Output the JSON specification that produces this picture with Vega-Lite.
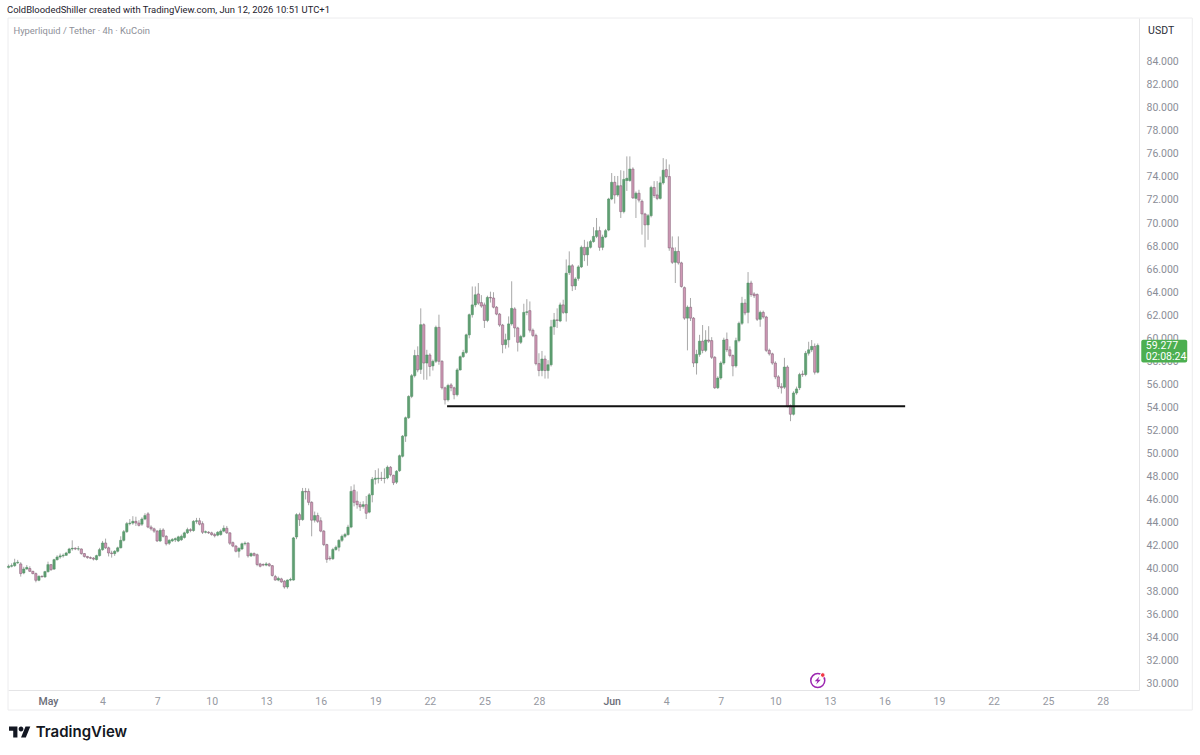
{
  "$schema": "https://vega.github.io/schema/vega-lite/v6.json",
  "width": 1131,
  "height": 672,
  "autosize": {"type": "none"},
  "padding": {"left": 8, "top": 18, "right": 61, "bottom": 65},
  "background": "#ffffff",
  "title": {
    "text": "ColdBloodedShiller created with TradingView.com, Jun 12, 2026 10:51 UTC+1",
    "anchor": "start",
    "frame": "group",
    "font": "Roboto",
    "fontSize": 9.45,
    "fontWeight": "normal",
    "color": "#1e222d",
    "offset": 2,
    "dx": -1
  },
  "config": {"view": {"stroke": null}},
  "datasets": {
    "candles": [
      {"t":"2026-04-28T20:00:00Z","o":40.0,"h":40.25,"l":39.9,"c":40.1},
      {"t":"2026-04-29T00:00:00Z","o":40.1,"h":40.35,"l":40.0,"c":40.15},
      {"t":"2026-04-29T04:00:00Z","o":40.15,"h":40.75,"l":40.05,"c":40.4},
      {"t":"2026-04-29T08:00:00Z","o":40.4,"h":40.65,"l":40.3,"c":40.45},
      {"t":"2026-04-29T12:00:00Z","o":40.3,"h":40.45,"l":39.2,"c":39.46},
      {"t":"2026-04-29T16:00:00Z","o":39.52,"h":40.05,"l":39.4,"c":39.86},
      {"t":"2026-04-29T20:00:00Z","o":39.86,"h":40.2,"l":39.8,"c":40.0},
      {"t":"2026-04-30T00:00:00Z","o":39.9,"h":40.1,"l":39.6,"c":39.66},
      {"t":"2026-04-30T04:00:00Z","o":39.66,"h":39.7,"l":39.4,"c":39.46},
      {"t":"2026-04-30T08:00:00Z","o":39.46,"h":39.55,"l":38.7,"c":38.88},
      {"t":"2026-04-30T12:00:00Z","o":38.88,"h":39.3,"l":38.8,"c":39.23},
      {"t":"2026-04-30T16:00:00Z","o":39.23,"h":39.3,"l":39.1,"c":39.2},
      {"t":"2026-04-30T20:00:00Z","o":39.17,"h":39.7,"l":39.1,"c":39.63},
      {"t":"2026-05-01T00:00:00Z","o":39.63,"h":40.5,"l":39.55,"c":40.24},
      {"t":"2026-05-01T04:00:00Z","o":40.24,"h":40.3,"l":39.7,"c":39.8},
      {"t":"2026-05-01T08:00:00Z","o":39.85,"h":40.75,"l":39.8,"c":40.67},
      {"t":"2026-05-01T12:00:00Z","o":40.67,"h":41.05,"l":40.6,"c":40.9},
      {"t":"2026-05-01T16:00:00Z","o":40.9,"h":41.2,"l":40.75,"c":41.0},
      {"t":"2026-05-01T20:00:00Z","o":41.0,"h":41.2,"l":40.85,"c":41.05},
      {"t":"2026-05-02T00:00:00Z","o":41.05,"h":41.35,"l":41.0,"c":41.25},
      {"t":"2026-05-02T04:00:00Z","o":41.25,"h":41.7,"l":41.2,"c":41.6},
      {"t":"2026-05-02T08:00:00Z","o":41.6,"h":42.35,"l":41.45,"c":41.66},
      {"t":"2026-05-02T12:00:00Z","o":41.66,"h":41.75,"l":41.5,"c":41.6},
      {"t":"2026-05-02T16:00:00Z","o":41.6,"h":41.85,"l":41.45,"c":41.62},
      {"t":"2026-05-02T20:00:00Z","o":41.6,"h":41.65,"l":41.1,"c":41.2},
      {"t":"2026-05-03T00:00:00Z","o":41.2,"h":41.25,"l":40.85,"c":40.95},
      {"t":"2026-05-03T04:00:00Z","o":40.95,"h":41.0,"l":40.75,"c":40.85},
      {"t":"2026-05-03T08:00:00Z","o":40.85,"h":40.95,"l":40.72,"c":40.8},
      {"t":"2026-05-03T12:00:00Z","o":40.8,"h":40.9,"l":40.6,"c":40.72},
      {"t":"2026-05-03T16:00:00Z","o":40.68,"h":41.1,"l":40.6,"c":41.02},
      {"t":"2026-05-03T20:00:00Z","o":41.02,"h":41.7,"l":40.95,"c":41.54},
      {"t":"2026-05-04T00:00:00Z","o":41.54,"h":42.3,"l":41.45,"c":42.12},
      {"t":"2026-05-04T04:00:00Z","o":42.12,"h":42.5,"l":41.6,"c":41.7},
      {"t":"2026-05-04T08:00:00Z","o":41.7,"h":41.8,"l":40.95,"c":41.25},
      {"t":"2026-05-04T12:00:00Z","o":41.25,"h":41.45,"l":40.85,"c":41.2},
      {"t":"2026-05-04T16:00:00Z","o":41.2,"h":41.5,"l":41.0,"c":41.4},
      {"t":"2026-05-04T20:00:00Z","o":41.4,"h":41.8,"l":41.3,"c":41.7},
      {"t":"2026-05-05T00:00:00Z","o":41.7,"h":42.7,"l":41.65,"c":42.35},
      {"t":"2026-05-05T04:00:00Z","o":42.35,"h":43.25,"l":42.25,"c":43.1},
      {"t":"2026-05-05T08:00:00Z","o":43.1,"h":43.95,"l":43.0,"c":43.8},
      {"t":"2026-05-05T12:00:00Z","o":43.8,"h":44.2,"l":43.65,"c":43.85},
      {"t":"2026-05-05T16:00:00Z","o":43.85,"h":44.45,"l":43.7,"c":44.0},
      {"t":"2026-05-05T20:00:00Z","o":44.0,"h":44.4,"l":43.6,"c":43.85},
      {"t":"2026-05-06T00:00:00Z","o":43.85,"h":44.1,"l":43.55,"c":43.65},
      {"t":"2026-05-06T04:00:00Z","o":43.75,"h":44.35,"l":43.6,"c":44.2},
      {"t":"2026-05-06T08:00:00Z","o":44.2,"h":44.7,"l":44.1,"c":44.5},
      {"t":"2026-05-06T12:00:00Z","o":44.65,"h":44.8,"l":43.4,"c":43.5},
      {"t":"2026-05-06T16:00:00Z","o":43.5,"h":43.65,"l":43.2,"c":43.35},
      {"t":"2026-05-06T20:00:00Z","o":43.35,"h":43.45,"l":43.0,"c":43.15},
      {"t":"2026-05-07T00:00:00Z","o":43.15,"h":43.25,"l":42.2,"c":42.3},
      {"t":"2026-05-07T04:00:00Z","o":42.3,"h":43.4,"l":42.2,"c":43.22},
      {"t":"2026-05-07T08:00:00Z","o":43.25,"h":43.4,"l":42.6,"c":42.7},
      {"t":"2026-05-07T12:00:00Z","o":42.7,"h":42.8,"l":41.9,"c":42.05},
      {"t":"2026-05-07T16:00:00Z","o":42.1,"h":42.45,"l":41.95,"c":42.35},
      {"t":"2026-05-07T20:00:00Z","o":42.3,"h":42.55,"l":42.2,"c":42.42},
      {"t":"2026-05-08T00:00:00Z","o":42.4,"h":42.6,"l":42.2,"c":42.5},
      {"t":"2026-05-08T04:00:00Z","o":42.3,"h":42.75,"l":42.2,"c":42.65},
      {"t":"2026-05-08T08:00:00Z","o":42.4,"h":42.85,"l":42.3,"c":42.7},
      {"t":"2026-05-08T12:00:00Z","o":42.6,"h":43.1,"l":42.5,"c":43.0},
      {"t":"2026-05-08T16:00:00Z","o":43.0,"h":43.45,"l":42.9,"c":43.28},
      {"t":"2026-05-08T20:00:00Z","o":43.28,"h":43.4,"l":43.05,"c":43.2},
      {"t":"2026-05-09T00:00:00Z","o":43.2,"h":44.1,"l":43.1,"c":44.0},
      {"t":"2026-05-09T04:00:00Z","o":44.0,"h":44.3,"l":43.8,"c":44.05},
      {"t":"2026-05-09T08:00:00Z","o":44.05,"h":44.3,"l":43.65,"c":43.75},
      {"t":"2026-05-09T12:00:00Z","o":43.8,"h":44.0,"l":42.9,"c":43.05},
      {"t":"2026-05-09T16:00:00Z","o":43.05,"h":43.2,"l":42.95,"c":43.1},
      {"t":"2026-05-09T20:00:00Z","o":43.05,"h":43.15,"l":42.9,"c":43.0},
      {"t":"2026-05-10T00:00:00Z","o":43.0,"h":43.1,"l":42.75,"c":42.85},
      {"t":"2026-05-10T04:00:00Z","o":42.85,"h":43.0,"l":42.6,"c":42.75},
      {"t":"2026-05-10T08:00:00Z","o":42.8,"h":43.15,"l":42.7,"c":43.05},
      {"t":"2026-05-10T12:00:00Z","o":42.85,"h":43.3,"l":42.75,"c":43.15},
      {"t":"2026-05-10T16:00:00Z","o":43.15,"h":43.65,"l":43.05,"c":43.4},
      {"t":"2026-05-10T20:00:00Z","o":43.4,"h":43.6,"l":42.9,"c":43.0},
      {"t":"2026-05-11T00:00:00Z","o":43.0,"h":43.05,"l":41.95,"c":42.1},
      {"t":"2026-05-11T04:00:00Z","o":42.15,"h":42.25,"l":41.75,"c":41.85},
      {"t":"2026-05-11T08:00:00Z","o":41.85,"h":41.95,"l":41.3,"c":41.4},
      {"t":"2026-05-11T12:00:00Z","o":41.4,"h":41.75,"l":40.85,"c":41.65},
      {"t":"2026-05-11T16:00:00Z","o":41.6,"h":42.15,"l":41.5,"c":42.05},
      {"t":"2026-05-11T20:00:00Z","o":42.05,"h":42.25,"l":41.9,"c":42.1},
      {"t":"2026-05-12T00:00:00Z","o":42.1,"h":42.2,"l":40.85,"c":41.0},
      {"t":"2026-05-12T04:00:00Z","o":41.0,"h":41.3,"l":40.9,"c":41.2},
      {"t":"2026-05-12T08:00:00Z","o":41.2,"h":41.3,"l":40.95,"c":41.05},
      {"t":"2026-05-12T12:00:00Z","o":41.1,"h":41.2,"l":40.1,"c":40.25},
      {"t":"2026-05-12T16:00:00Z","o":40.3,"h":40.4,"l":40.0,"c":40.1},
      {"t":"2026-05-12T20:00:00Z","o":40.25,"h":40.35,"l":40.1,"c":40.2},
      {"t":"2026-05-13T00:00:00Z","o":40.2,"h":40.45,"l":40.1,"c":40.3},
      {"t":"2026-05-13T04:00:00Z","o":40.3,"h":40.4,"l":40.05,"c":40.15},
      {"t":"2026-05-13T08:00:00Z","o":40.15,"h":40.2,"l":39.2,"c":39.3},
      {"t":"2026-05-13T12:00:00Z","o":39.2,"h":39.35,"l":38.85,"c":38.9},
      {"t":"2026-05-13T16:00:00Z","o":38.9,"h":39.2,"l":38.8,"c":39.05},
      {"t":"2026-05-13T20:00:00Z","o":39.0,"h":39.1,"l":38.65,"c":38.75},
      {"t":"2026-05-14T00:00:00Z","o":38.8,"h":38.9,"l":38.15,"c":38.3},
      {"t":"2026-05-14T04:00:00Z","o":38.3,"h":38.95,"l":38.15,"c":38.9},
      {"t":"2026-05-14T08:00:00Z","o":38.9,"h":39.1,"l":38.8,"c":38.95},
      {"t":"2026-05-14T12:00:00Z","o":38.9,"h":42.65,"l":38.85,"c":42.56},
      {"t":"2026-05-14T16:00:00Z","o":42.64,"h":44.7,"l":42.45,"c":44.58},
      {"t":"2026-05-14T20:00:00Z","o":44.58,"h":44.75,"l":43.6,"c":44.15},
      {"t":"2026-05-15T00:00:00Z","o":44.15,"h":46.9,"l":44.05,"c":46.6},
      {"t":"2026-05-15T04:00:00Z","o":46.6,"h":46.9,"l":45.9,"c":46.55},
      {"t":"2026-05-15T08:00:00Z","o":46.6,"h":46.85,"l":45.4,"c":45.65},
      {"t":"2026-05-15T12:00:00Z","o":45.65,"h":45.75,"l":42.7,"c":44.1},
      {"t":"2026-05-15T16:00:00Z","o":44.1,"h":44.85,"l":43.9,"c":44.5},
      {"t":"2026-05-15T20:00:00Z","o":44.5,"h":44.75,"l":43.85,"c":44.0},
      {"t":"2026-05-16T00:00:00Z","o":44.05,"h":44.35,"l":43.05,"c":43.15},
      {"t":"2026-05-16T04:00:00Z","o":43.15,"h":43.25,"l":41.85,"c":41.98},
      {"t":"2026-05-16T08:00:00Z","o":41.98,"h":42.05,"l":40.4,"c":40.7},
      {"t":"2026-05-16T12:00:00Z","o":40.8,"h":41.0,"l":40.6,"c":40.75},
      {"t":"2026-05-16T16:00:00Z","o":40.75,"h":41.7,"l":40.65,"c":41.55},
      {"t":"2026-05-16T20:00:00Z","o":41.55,"h":41.9,"l":41.45,"c":41.75},
      {"t":"2026-05-17T00:00:00Z","o":41.75,"h":42.45,"l":41.4,"c":42.35},
      {"t":"2026-05-17T04:00:00Z","o":42.35,"h":42.85,"l":42.2,"c":42.7},
      {"t":"2026-05-17T08:00:00Z","o":42.7,"h":43.0,"l":42.55,"c":42.85},
      {"t":"2026-05-17T12:00:00Z","o":42.85,"h":43.7,"l":42.75,"c":43.5},
      {"t":"2026-05-17T16:00:00Z","o":43.5,"h":47.05,"l":43.4,"c":46.6},
      {"t":"2026-05-17T20:00:00Z","o":46.7,"h":47.2,"l":45.3,"c":45.65},
      {"t":"2026-05-18T00:00:00Z","o":45.75,"h":46.6,"l":45.1,"c":45.45},
      {"t":"2026-05-18T04:00:00Z","o":45.45,"h":45.7,"l":44.9,"c":45.25},
      {"t":"2026-05-18T08:00:00Z","o":45.3,"h":45.75,"l":45.1,"c":45.45},
      {"t":"2026-05-18T12:00:00Z","o":45.45,"h":46.2,"l":44.2,"c":44.7},
      {"t":"2026-05-18T16:00:00Z","o":44.8,"h":46.45,"l":44.7,"c":46.3},
      {"t":"2026-05-18T20:00:00Z","o":46.3,"h":47.85,"l":45.65,"c":47.65},
      {"t":"2026-05-19T00:00:00Z","o":47.65,"h":48.45,"l":47.2,"c":47.75},
      {"t":"2026-05-19T04:00:00Z","o":47.7,"h":48.6,"l":47.3,"c":47.75},
      {"t":"2026-05-19T08:00:00Z","o":47.75,"h":48.3,"l":47.5,"c":47.72},
      {"t":"2026-05-19T12:00:00Z","o":47.72,"h":48.6,"l":47.3,"c":47.75},
      {"t":"2026-05-19T16:00:00Z","o":47.77,"h":48.85,"l":47.65,"c":48.7},
      {"t":"2026-05-19T20:00:00Z","o":48.7,"h":48.8,"l":47.9,"c":48.05},
      {"t":"2026-05-20T00:00:00Z","o":48.0,"h":48.05,"l":47.15,"c":47.35},
      {"t":"2026-05-20T04:00:00Z","o":47.4,"h":48.45,"l":47.25,"c":48.35},
      {"t":"2026-05-20T08:00:00Z","o":48.4,"h":49.8,"l":48.3,"c":49.7},
      {"t":"2026-05-20T12:00:00Z","o":49.65,"h":51.5,"l":49.55,"c":51.4},
      {"t":"2026-05-20T16:00:00Z","o":51.4,"h":53.1,"l":50.9,"c":53.0},
      {"t":"2026-05-20T20:00:00Z","o":53.0,"h":54.95,"l":52.9,"c":54.85},
      {"t":"2026-05-21T00:00:00Z","o":54.85,"h":56.8,"l":54.7,"c":56.65},
      {"t":"2026-05-21T04:00:00Z","o":56.65,"h":58.9,"l":56.5,"c":58.4},
      {"t":"2026-05-21T08:00:00Z","o":58.4,"h":59.2,"l":56.95,"c":57.15},
      {"t":"2026-05-21T12:00:00Z","o":57.2,"h":62.5,"l":56.8,"c":61.08},
      {"t":"2026-05-21T16:00:00Z","o":61.08,"h":61.2,"l":56.3,"c":57.75},
      {"t":"2026-05-21T20:00:00Z","o":57.75,"h":58.9,"l":56.3,"c":58.45},
      {"t":"2026-05-22T00:00:00Z","o":58.45,"h":58.6,"l":56.6,"c":57.45},
      {"t":"2026-05-22T04:00:00Z","o":57.5,"h":58.05,"l":57.1,"c":57.9},
      {"t":"2026-05-22T08:00:00Z","o":57.9,"h":61.0,"l":57.75,"c":60.85},
      {"t":"2026-05-22T12:00:00Z","o":60.85,"h":61.95,"l":57.6,"c":57.9},
      {"t":"2026-05-22T16:00:00Z","o":57.9,"h":58.0,"l":55.45,"c":55.6},
      {"t":"2026-05-22T20:00:00Z","o":55.6,"h":55.7,"l":54.15,"c":54.55},
      {"t":"2026-05-23T00:00:00Z","o":54.55,"h":55.95,"l":54.4,"c":55.8},
      {"t":"2026-05-23T04:00:00Z","o":55.85,"h":56.0,"l":55.3,"c":55.6},
      {"t":"2026-05-23T08:00:00Z","o":55.6,"h":55.7,"l":54.6,"c":55.0},
      {"t":"2026-05-23T12:00:00Z","o":55.0,"h":57.3,"l":54.85,"c":57.15},
      {"t":"2026-05-23T16:00:00Z","o":57.15,"h":58.4,"l":57.1,"c":58.3},
      {"t":"2026-05-23T20:00:00Z","o":58.3,"h":58.9,"l":58.2,"c":58.67},
      {"t":"2026-05-24T00:00:00Z","o":58.67,"h":60.3,"l":58.55,"c":60.2},
      {"t":"2026-05-24T04:00:00Z","o":60.2,"h":62.05,"l":59.9,"c":61.95},
      {"t":"2026-05-24T08:00:00Z","o":61.95,"h":64.4,"l":61.7,"c":62.8},
      {"t":"2026-05-24T12:00:00Z","o":62.8,"h":64.4,"l":62.6,"c":63.68},
      {"t":"2026-05-24T16:00:00Z","o":63.75,"h":64.7,"l":62.8,"c":62.95},
      {"t":"2026-05-24T20:00:00Z","o":63.0,"h":63.65,"l":62.55,"c":62.7},
      {"t":"2026-05-25T00:00:00Z","o":62.8,"h":63.0,"l":60.8,"c":61.45},
      {"t":"2026-05-25T04:00:00Z","o":61.45,"h":63.6,"l":61.3,"c":63.45},
      {"t":"2026-05-25T08:00:00Z","o":63.45,"h":63.95,"l":63.0,"c":63.4},
      {"t":"2026-05-25T12:00:00Z","o":63.4,"h":63.9,"l":62.5,"c":62.6},
      {"t":"2026-05-25T16:00:00Z","o":62.6,"h":62.7,"l":61.9,"c":62.0},
      {"t":"2026-05-25T20:00:00Z","o":62.0,"h":62.1,"l":60.9,"c":61.05},
      {"t":"2026-05-26T00:00:00Z","o":61.05,"h":61.15,"l":58.6,"c":59.35},
      {"t":"2026-05-26T04:00:00Z","o":59.35,"h":60.3,"l":59.0,"c":59.77},
      {"t":"2026-05-26T08:00:00Z","o":59.77,"h":61.8,"l":59.1,"c":61.15},
      {"t":"2026-05-26T12:00:00Z","o":61.15,"h":64.85,"l":61.0,"c":62.5},
      {"t":"2026-05-26T16:00:00Z","o":62.45,"h":62.6,"l":60.0,"c":60.8},
      {"t":"2026-05-26T20:00:00Z","o":60.8,"h":60.9,"l":58.75,"c":59.55},
      {"t":"2026-05-27T00:00:00Z","o":59.55,"h":60.2,"l":59.4,"c":60.05},
      {"t":"2026-05-27T04:00:00Z","o":60.05,"h":62.9,"l":59.95,"c":62.15},
      {"t":"2026-05-27T08:00:00Z","o":62.15,"h":63.3,"l":61.9,"c":62.2},
      {"t":"2026-05-27T12:00:00Z","o":62.3,"h":63.1,"l":60.4,"c":60.6},
      {"t":"2026-05-27T16:00:00Z","o":60.6,"h":60.75,"l":60.0,"c":60.15},
      {"t":"2026-05-27T20:00:00Z","o":60.15,"h":60.3,"l":57.55,"c":57.7},
      {"t":"2026-05-28T00:00:00Z","o":57.7,"h":58.6,"l":56.6,"c":57.1},
      {"t":"2026-05-28T04:00:00Z","o":57.1,"h":58.8,"l":56.6,"c":58.1},
      {"t":"2026-05-28T08:00:00Z","o":58.1,"h":58.4,"l":56.4,"c":57.1},
      {"t":"2026-05-28T12:00:00Z","o":57.1,"h":58.0,"l":56.4,"c":57.6},
      {"t":"2026-05-28T16:00:00Z","o":57.6,"h":61.5,"l":57.45,"c":60.9},
      {"t":"2026-05-28T20:00:00Z","o":60.9,"h":62.1,"l":60.2,"c":61.5},
      {"t":"2026-05-29T00:00:00Z","o":61.5,"h":62.5,"l":60.8,"c":61.45},
      {"t":"2026-05-29T04:00:00Z","o":61.4,"h":63.0,"l":61.3,"c":62.8},
      {"t":"2026-05-29T08:00:00Z","o":62.8,"h":63.25,"l":62.0,"c":62.15},
      {"t":"2026-05-29T12:00:00Z","o":62.1,"h":66.75,"l":61.35,"c":65.55},
      {"t":"2026-05-29T16:00:00Z","o":65.6,"h":67.45,"l":65.4,"c":66.2},
      {"t":"2026-05-29T20:00:00Z","o":66.2,"h":66.35,"l":64.0,"c":64.45},
      {"t":"2026-05-30T00:00:00Z","o":64.45,"h":65.2,"l":64.1,"c":65.05},
      {"t":"2026-05-30T04:00:00Z","o":65.1,"h":66.25,"l":64.9,"c":66.1},
      {"t":"2026-05-30T08:00:00Z","o":66.1,"h":67.95,"l":66.0,"c":67.8},
      {"t":"2026-05-30T12:00:00Z","o":67.8,"h":68.45,"l":66.6,"c":67.15},
      {"t":"2026-05-30T16:00:00Z","o":67.15,"h":68.3,"l":66.2,"c":67.8},
      {"t":"2026-05-30T20:00:00Z","o":67.8,"h":68.45,"l":67.7,"c":68.3},
      {"t":"2026-05-31T00:00:00Z","o":68.3,"h":69.55,"l":68.2,"c":68.75},
      {"t":"2026-05-31T04:00:00Z","o":68.75,"h":70.35,"l":68.6,"c":69.25},
      {"t":"2026-05-31T08:00:00Z","o":69.25,"h":69.6,"l":67.5,"c":67.8},
      {"t":"2026-05-31T12:00:00Z","o":67.8,"h":68.9,"l":67.55,"c":68.7},
      {"t":"2026-05-31T16:00:00Z","o":68.7,"h":69.4,"l":68.6,"c":69.25},
      {"t":"2026-05-31T20:00:00Z","o":69.3,"h":72.1,"l":69.2,"c":72.0},
      {"t":"2026-06-01T00:00:00Z","o":72.0,"h":74.25,"l":71.9,"c":73.45},
      {"t":"2026-06-01T04:00:00Z","o":73.45,"h":74.0,"l":71.6,"c":72.35},
      {"t":"2026-06-01T08:00:00Z","o":72.35,"h":74.0,"l":72.2,"c":73.15},
      {"t":"2026-06-01T12:00:00Z","o":73.15,"h":74.5,"l":70.35,"c":70.9},
      {"t":"2026-06-01T16:00:00Z","o":70.9,"h":74.45,"l":70.75,"c":73.7},
      {"t":"2026-06-01T20:00:00Z","o":73.6,"h":75.7,"l":72.7,"c":73.8},
      {"t":"2026-06-02T00:00:00Z","o":73.6,"h":75.7,"l":73.5,"c":74.6},
      {"t":"2026-06-02T04:00:00Z","o":74.6,"h":74.75,"l":72.0,"c":72.1},
      {"t":"2026-06-02T08:00:00Z","o":72.05,"h":72.65,"l":70.35,"c":72.5},
      {"t":"2026-06-02T12:00:00Z","o":72.5,"h":72.8,"l":71.7,"c":71.9},
      {"t":"2026-06-02T16:00:00Z","o":71.8,"h":71.95,"l":68.9,"c":70.7},
      {"t":"2026-06-02T20:00:00Z","o":70.7,"h":70.8,"l":67.8,"c":69.75},
      {"t":"2026-06-03T00:00:00Z","o":69.75,"h":70.7,"l":68.45,"c":70.55},
      {"t":"2026-06-03T04:00:00Z","o":70.55,"h":73.15,"l":70.4,"c":73.0},
      {"t":"2026-06-03T08:00:00Z","o":73.0,"h":73.55,"l":72.1,"c":72.3},
      {"t":"2026-06-03T12:00:00Z","o":72.35,"h":73.55,"l":71.9,"c":72.05},
      {"t":"2026-06-03T16:00:00Z","o":72.05,"h":73.95,"l":71.95,"c":73.4},
      {"t":"2026-06-03T20:00:00Z","o":73.4,"h":75.55,"l":73.25,"c":74.5},
      {"t":"2026-06-04T00:00:00Z","o":74.55,"h":75.45,"l":73.8,"c":73.95},
      {"t":"2026-06-04T04:00:00Z","o":73.95,"h":75.0,"l":67.5,"c":67.75},
      {"t":"2026-06-04T08:00:00Z","o":67.75,"h":68.75,"l":66.35,"c":66.5},
      {"t":"2026-06-04T12:00:00Z","o":66.5,"h":67.8,"l":64.7,"c":67.45},
      {"t":"2026-06-04T16:00:00Z","o":67.45,"h":68.75,"l":66.3,"c":66.45},
      {"t":"2026-06-04T20:00:00Z","o":66.45,"h":66.55,"l":64.3,"c":64.4},
      {"t":"2026-06-05T00:00:00Z","o":64.3,"h":64.4,"l":61.5,"c":61.65},
      {"t":"2026-06-05T04:00:00Z","o":61.65,"h":62.75,"l":58.85,"c":62.6},
      {"t":"2026-06-05T08:00:00Z","o":62.6,"h":63.4,"l":61.4,"c":61.65},
      {"t":"2026-06-05T12:00:00Z","o":61.65,"h":61.75,"l":57.4,"c":57.75},
      {"t":"2026-06-05T16:00:00Z","o":57.75,"h":58.9,"l":56.75,"c":58.5},
      {"t":"2026-06-05T20:00:00Z","o":58.5,"h":60.2,"l":58.3,"c":59.65},
      {"t":"2026-06-06T00:00:00Z","o":59.65,"h":61.05,"l":58.6,"c":58.85},
      {"t":"2026-06-06T04:00:00Z","o":58.85,"h":60.6,"l":58.7,"c":59.75},
      {"t":"2026-06-06T08:00:00Z","o":59.75,"h":60.95,"l":59.5,"c":59.65},
      {"t":"2026-06-06T12:00:00Z","o":59.7,"h":60.0,"l":58.1,"c":58.25},
      {"t":"2026-06-06T16:00:00Z","o":58.25,"h":58.35,"l":55.5,"c":55.6},
      {"t":"2026-06-06T20:00:00Z","o":55.6,"h":56.6,"l":55.5,"c":56.45},
      {"t":"2026-06-07T00:00:00Z","o":56.45,"h":57.9,"l":56.3,"c":57.75},
      {"t":"2026-06-07T04:00:00Z","o":57.75,"h":59.95,"l":57.6,"c":59.75},
      {"t":"2026-06-07T08:00:00Z","o":59.8,"h":60.4,"l":58.7,"c":58.9},
      {"t":"2026-06-07T12:00:00Z","o":58.9,"h":59.2,"l":58.25,"c":58.4},
      {"t":"2026-06-07T16:00:00Z","o":58.4,"h":58.5,"l":56.6,"c":57.5},
      {"t":"2026-06-07T20:00:00Z","o":57.5,"h":59.95,"l":57.35,"c":59.7},
      {"t":"2026-06-08T00:00:00Z","o":59.7,"h":61.35,"l":59.55,"c":61.2},
      {"t":"2026-06-08T04:00:00Z","o":61.2,"h":63.5,"l":61.05,"c":62.95},
      {"t":"2026-06-08T08:00:00Z","o":62.95,"h":63.3,"l":61.9,"c":62.1},
      {"t":"2026-06-08T12:00:00Z","o":62.15,"h":65.65,"l":61.2,"c":64.7},
      {"t":"2026-06-08T16:00:00Z","o":64.7,"h":64.9,"l":63.5,"c":63.7},
      {"t":"2026-06-08T20:00:00Z","o":63.75,"h":63.9,"l":63.4,"c":63.6},
      {"t":"2026-06-09T00:00:00Z","o":63.7,"h":63.8,"l":61.4,"c":61.55},
      {"t":"2026-06-09T04:00:00Z","o":61.55,"h":62.3,"l":60.9,"c":62.15},
      {"t":"2026-06-09T08:00:00Z","o":62.15,"h":62.3,"l":61.6,"c":61.75},
      {"t":"2026-06-09T12:00:00Z","o":61.75,"h":61.85,"l":58.7,"c":58.85},
      {"t":"2026-06-09T16:00:00Z","o":58.85,"h":59.0,"l":58.4,"c":58.55},
      {"t":"2026-06-09T20:00:00Z","o":58.55,"h":58.65,"l":57.6,"c":57.75},
      {"t":"2026-06-10T00:00:00Z","o":57.75,"h":57.9,"l":56.35,"c":56.55},
      {"t":"2026-06-10T04:00:00Z","o":56.55,"h":56.7,"l":55.5,"c":55.7},
      {"t":"2026-06-10T08:00:00Z","o":55.7,"h":56.0,"l":55.1,"c":55.6},
      {"t":"2026-06-10T12:00:00Z","o":55.65,"h":58.2,"l":55.5,"c":57.4},
      {"t":"2026-06-10T16:00:00Z","o":57.4,"h":57.55,"l":53.9,"c":54.0},
      {"t":"2026-06-10T20:00:00Z","o":54.05,"h":54.15,"l":52.7,"c":53.3},
      {"t":"2026-06-11T00:00:00Z","o":53.3,"h":55.3,"l":53.2,"c":55.15},
      {"t":"2026-06-11T04:00:00Z","o":55.15,"h":55.7,"l":55.0,"c":55.5},
      {"t":"2026-06-11T08:00:00Z","o":55.6,"h":56.9,"l":55.4,"c":56.75},
      {"t":"2026-06-11T12:00:00Z","o":56.8,"h":57.1,"l":56.55,"c":56.75},
      {"t":"2026-06-11T16:00:00Z","o":56.75,"h":58.8,"l":56.6,"c":58.6},
      {"t":"2026-06-11T20:00:00Z","o":58.6,"h":59.6,"l":58.4,"c":58.9},
      {"t":"2026-06-12T00:00:00Z","o":58.9,"h":59.75,"l":58.7,"c":59.2},
      {"t":"2026-06-12T04:00:00Z","o":59.2,"h":59.45,"l":56.75,"c":56.95},
      {"t":"2026-06-12T08:00:00Z","o":56.95,"h":59.45,"l":56.85,"c":59.28}
    ]
  },
  "data": {"name": "candles"},
  "encoding": {
    "x": {
      "field": "t",
      "type": "temporal",
      "title": null,
      "scale": {
        "type": "utc",
        "padding": 0,
        "domain": [
          {"year": 2026, "month": 4, "date": 28, "hours": 19, "minutes": 12, "utc": true},
          {"year": 2026, "month": 6, "date": 30, "hours": 0, "minutes": 0, "utc": true}
        ],
        "nice": false
      },
      "axis": {
        "orient": "bottom",
        "grid": false,
        "ticks": false,
        "domain": true,
        "domainColor": "#e4e4e6",
        "labelFont": "Roboto",
        "labelFontSize": 10.5,
        "labelColor": {"condition": {"test": "utcdate(datum.value) == 1", "value": "#6a6d78"}, "value": "#9598a1"},
        "labelFontWeight": {"condition": {"test": "utcdate(datum.value) == 1", "value": 500}, "value": 400},
        "labelPadding": 6,
        "labelOverlap": false,
        "labelFlush": false,
        "tickCount": 30,
        "labelExpr": "utcdate(datum.value) == 1 ? utcFormat(datum.value, '%b') : utcFormat(datum.value, '%-d')",
        "values": [
          {"year": 2026, "month": 5, "date": 1, "utc": true},
          {"year": 2026, "month": 5, "date": 4, "utc": true},
          {"year": 2026, "month": 5, "date": 7, "utc": true},
          {"year": 2026, "month": 5, "date": 10, "utc": true},
          {"year": 2026, "month": 5, "date": 13, "utc": true},
          {"year": 2026, "month": 5, "date": 16, "utc": true},
          {"year": 2026, "month": 5, "date": 19, "utc": true},
          {"year": 2026, "month": 5, "date": 22, "utc": true},
          {"year": 2026, "month": 5, "date": 25, "utc": true},
          {"year": 2026, "month": 5, "date": 28, "utc": true},
          {"year": 2026, "month": 6, "date": 1, "utc": true},
          {"year": 2026, "month": 6, "date": 4, "utc": true},
          {"year": 2026, "month": 6, "date": 7, "utc": true},
          {"year": 2026, "month": 6, "date": 10, "utc": true},
          {"year": 2026, "month": 6, "date": 13, "utc": true},
          {"year": 2026, "month": 6, "date": 16, "utc": true},
          {"year": 2026, "month": 6, "date": 19, "utc": true},
          {"year": 2026, "month": 6, "date": 22, "utc": true},
          {"year": 2026, "month": 6, "date": 25, "utc": true},
          {"year": 2026, "month": 6, "date": 28, "utc": true}
        ]
      }
    }
  },
  "layer": [
    {
      "data": {"values": [{"t": "2026-04-28T19:12:00Z", "t2": "2026-07-02T22:20:00Z", "p": 87.72, "p2": 27.61}]},
      "mark": {"type": "rect", "fill": null, "stroke": "#ececee", "strokeWidth": 1},
      "encoding": {
        "x2": {"field": "t2"},
        "y": {
          "field": "p",
          "type": "quantitative",
          "title": null,
          "scale": {"domain": [29.35, 87.72], "nice": false, "zero": false},
          "axis": {
            "orient": "right",
            "grid": false,
            "ticks": false,
            "domain": true,
            "domainColor": "#e4e4e6",
            "labelFont": "Roboto",
            "labelFontSize": 10.5,
            "labelColor": "#8b8e98",
            "labelPadding": 7,
            "labelOffset": 1,
            "format": ".3f",
            "labelOverlap": false,
            "labelFlush": false,
            "tickCount": 30,
            "values": [30,32,34,36,38,40,42,44,46,48,50,52,54,56,58,60,62,64,66,68,70,72,74,76,78,80,82,84]
          }
        },
        "y2": {"field": "p2"}
      }
    },
    {
      "mark": {"type": "rule", "strokeWidth": 1, "color": "#a8a8a8"},
      "encoding": {
        "y": {"field": "l", "type": "quantitative"},
        "y2": {"field": "h"}
      }
    },
    {
      "mark": {"type": "bar", "size": 2.3, "strokeWidth": 0.5},
      "encoding": {
        "y": {"field": "o", "type": "quantitative"},
        "y2": {"field": "c"},
        "fill": {"condition": {"test": "datum.c >= datum.o", "value": "#5f9f72"}, "value": "#cf98b5"},
        "stroke": {"condition": {"test": "datum.c >= datum.o", "value": "#4f8f63"}, "value": "#7d5a70"}
      }
    },
    {
      "data": {"values": [{"t": "2026-05-22T22:45:00Z", "t2": "2026-06-17T03:20:00Z", "p": 54.0}]},
      "mark": {"type": "rule", "strokeWidth": 2, "color": "#111111"},
      "encoding": {
        "x2": {"field": "t2"},
        "y": {"field": "p", "type": "quantitative"}
      }
    },
    {
      "data": {"values": [{"t": "2026-06-30T03:00:00Z", "t2": "2026-07-02T15:40:00Z", "p": 59.77, "p2": 57.8}]},
      "mark": {"type": "rect", "color": "#4caf50", "cornerRadius": 2},
      "encoding": {
        "x2": {"field": "t2"},
        "y": {"field": "p", "type": "quantitative"},
        "y2": {"field": "p2"}
      }
    },
    {
      "data": {"values": [
        {"t": "2026-06-30T09:00:00Z", "p": 59.24, "label": "59.277"},
        {"t": "2026-06-30T09:00:00Z", "p": 58.3, "label": "02:08:24"}
      ]},
      "mark": {"type": "text", "align": "left", "baseline": "middle", "font": "Roboto", "fontSize": 10.5, "color": "#ffffff"},
      "encoding": {
        "y": {"field": "p", "type": "quantitative"},
        "text": {"field": "label"}
      }
    },
    {
      "data": {"values": [{"t": "2026-06-30T12:00:00Z", "p": 86.55, "label": "USDT"}]},
      "mark": {"type": "text", "align": "left", "baseline": "middle", "font": "Roboto", "fontSize": 10.5, "color": "#2a2e39"},
      "encoding": {
        "y": {"field": "p", "type": "quantitative"},
        "text": {"field": "label"}
      }
    },
    {
      "data": {"values": [{"t": "2026-04-29T02:26:00Z", "p": 86.62, "label": "Hyperliquid / Tether · 4h · KuCoin"}]},
      "mark": {"type": "text", "align": "left", "baseline": "middle", "font": "Roboto", "fontSize": 9.4, "color": "#8e9099"},
      "encoding": {
        "y": {"field": "p", "type": "quantitative"},
        "text": {"field": "label"}
      }
    },
    {
      "data": {"values": [{"t": "2026-04-30T07:50:00Z", "p": 25.7, "label": "TradingView"}]},
      "mark": {"type": "text", "align": "left", "baseline": "middle", "font": "Inter", "fontSize": 15, "fontWeight": 600, "color": "#131722"},
      "encoding": {
        "y": {"field": "p", "type": "quantitative"},
        "text": {"field": "label"}
      }
    },
    {
      "data": {"values": [{"t": "2026-04-29T10:48:00Z", "p": 25.7}]},
      "mark": {
        "type": "point",
        "filled": true,
        "size": 4,
        "opacity": 1,
        "color": "#131722",
        "shape": "M-2.4 5.4H-6.6V-1.2H-10.8V-5.4H-2.4ZM6 5.4H1.2L5.7 -5.4H10.5ZM-1.2 -3a2.4 2.4 0 1 0 4.8 0a2.4 2.4 0 1 0 -4.8 0Z"
      },
      "encoding": {"y": {"field": "p", "type": "quantitative"}}
    },
    {
      "data": {"values": [{"t": "2026-06-12T08:00:00Z", "p": 30.17}]},
      "mark": {"type": "point", "filled": false, "shape": "circle", "size": 196, "opacity": 1, "color": "#9c27b0", "strokeWidth": 1.5},
      "encoding": {"y": {"field": "p", "type": "quantitative"}}
    },
    {
      "data": {"values": [{"t": "2026-06-12T08:00:00Z", "p": 30.17}]},
      "mark": {
        "type": "point",
        "filled": true,
        "size": 4,
        "opacity": 1,
        "color": "#9c27b0",
        "shape": "M1.6 -4L-3 0.8H-0.4L-1.6 4L3 -0.8H0.4Z"
      },
      "encoding": {"y": {"field": "p", "type": "quantitative"}}
    },
    {
      "data": {"values": [{"t": "2026-06-12T14:36:00Z", "p": 30.65}]},
      "mark": {"type": "point", "filled": true, "shape": "circle", "size": 22, "opacity": 1, "color": "#f23645", "stroke": "#ffffff", "strokeWidth": 1},
      "encoding": {"y": {"field": "p", "type": "quantitative"}}
    }
  ]
}
